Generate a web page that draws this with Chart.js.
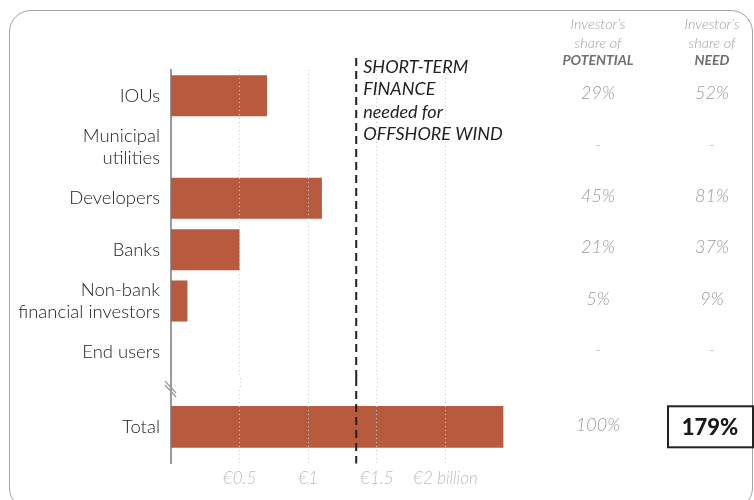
<!DOCTYPE html>
<html lang="en">
<head>
<meta charset="UTF-8">
<title>Short-term finance for offshore wind</title>
<script src="https://cdn.jsdelivr.net/npm/chart.js"></script>
<style>
  html, body { margin: 0; padding: 0; background: #fff; }
  .wrap { position: relative; width: 754px; height: 500px; overflow: hidden; }
  .frame { position: absolute; left: 9px; top: 10px; width: 744px; height: 500px; border: 1.5px solid #a3a3a3; border-radius: 22px; box-sizing: border-box; }
  .panel { position: absolute; left: 0; width: 754px; }
  #topPanel { top: 0; height: 378px; }
  #totalPanel { top: 378px; height: 122px; }
</style>
</head>
<body>
<div class="wrap">
  <div class="frame"></div>
  <div class="panel" id="topPanel"><canvas id="chartTop"></canvas></div>
  <div class="panel" id="totalPanel"><canvas id="chartTotal"></canvas></div>
</div>
<script>
  // values in € billion
  const categories = ['IOUs', ['Municipal', 'utilities'], 'Developers', 'Banks', ['Non-bank', 'financial investors'], 'End users'];
  const financeBn = [0.70, 0, 1.10, 0.50, 0.12, 0];
  const totalCategory = ['Total'];
  const totalFinanceBn = [2.42];
  const offshoreWindNeedBn = 1.35;

  const shareOfPotential = ['29%', '-', '45%', '21%', '5%', '-'];
  const shareOfNeed = ['52%', '-', '81%', '37%', '9%', '-'];
  const totalShareOfPotential = ['100%'];
  const totalShareOfNeed = ['179%'];

  const xTickValues = [0.5, 1, 1.5, 2];
  const xTickLabels = ['€0.5', '€1', '€1.5', '€2 billion'];
  const needNoteLines = ['SHORT-TERM', 'FINANCE', 'needed for', 'OFFSHORE WIND'];

  const BAR = '#b85a3e';
  const FONT = 'Lato, "Open Sans", sans-serif';
  const COL_POT = 598, COL_NEED = 712;
  const GRID = '#c6c6c6';
  const AXIS = '#9a9a9a';

  function xScale(showLabels) {
    const s = {
      type: 'linear', min: 0, max: 2.5,
      afterBuildTicks: sc => { sc.ticks = xTickValues.map(v => ({ value: v })); },
      grid: { color: GRID, lineWidth: 1, drawTicks: false, z: 1 },
      border: { display: false, dash: [1, 3] },
      ticks: {
        display: showLabels, padding: 5, color: '#bdbdbd',
        font: { family: FONT, size: 17, style: 'italic', weight: 300 },
        callback: (v, i) => xTickLabels[i]
      }
    };
    if (!showLabels) s.afterFit = sc => { sc.height = 0; };
    return s;
  }

  function yScale() {
    return {
      type: 'category',
      grid: { display: false, drawTicks: false },
      border: { color: AXIS, width: 2 },
      ticks: { color: '#222', padding: 11, font: { family: FONT, size: 18.5, weight: 300 } },
      afterFit: s => { s.width = 171; s.paddingTop = 0; s.paddingBottom = 0; }
    };
  }

  function dashedNeed(ctx, chart, y0, y1) {
    const x = chart.scales.x.getPixelForValue(offshoreWindNeedBn);
    ctx.save();
    ctx.strokeStyle = '#222';
    ctx.lineWidth = 2;
    ctx.setLineDash([8, 5]);
    ctx.beginPath();
    ctx.moveTo(x, y0);
    ctx.lineTo(x, y1);
    ctx.stroke();
    ctx.restore();
    return x;
  }

  const topDecor = {
    id: 'topDecor',
    afterDraw(chart) {
      const ctx = chart.ctx;
      const x = dashedNeed(ctx, chart, 58, chart.height);
      ctx.save();
      ctx.textBaseline = 'middle';
      // note next to the dashed line
      ctx.textAlign = 'left';
      ctx.fillStyle = '#222';
      ctx.font = `italic 18px ${FONT}`;
      needNoteLines.forEach((t, i) => ctx.fillText(t, x + 7, 67 + i * 22.5));
      // column headers
      ctx.textAlign = 'center';
      [[COL_POT, 'POTENTIAL'], [COL_NEED, 'NEED']].forEach(([cx, key]) => {
        ctx.font = `italic 300 14.5px ${FONT}`;
        ctx.fillStyle = '#a0a0a0';
        ctx.fillText('Investor’s', cx, 24);
        ctx.fillText('share of', cx, 43);
        ctx.font = `italic bold 14px ${FONT}`;
        ctx.fillStyle = '#707070';
        ctx.fillText(key, cx, 60);
      });
      // shares
      ctx.font = `italic 300 18px ${FONT}`;
      ctx.fillStyle = '#999';
      categories.forEach((c, i) => {
        const y = chart.scales.y.getPixelForValue(i) - 2;
        ctx.fillText(shareOfPotential[i], COL_POT, y);
        ctx.fillText(shareOfNeed[i], COL_NEED, y);
      });
      ctx.restore();
    }
  };

  const totalDecor = {
    id: 'totalDecor',
    afterDraw(chart) {
      const ctx = chart.ctx;
      const area = chart.chartArea;
      const xs = chart.scales.x;
      ctx.save();
      // carry grid and axis through the break
      ctx.strokeStyle = GRID;
      ctx.lineWidth = 1;
      ctx.setLineDash([1, 3]);
      xTickValues.forEach(v => {
        const x = Math.round(xs.getPixelForValue(v)) + 0.5;
        ctx.beginPath();
        ctx.moveTo(x, 0);
        ctx.lineTo(x, area.top);
        ctx.stroke();
      });
      ctx.setLineDash([]);
      ctx.strokeStyle = AXIS;
      ctx.lineWidth = 2;
      ctx.beginPath();
      ctx.moveTo(area.left, 0);
      ctx.lineTo(area.left, area.top);
      ctx.stroke();
      // break mark
      ctx.lineWidth = 1.3;
      [0, 4].forEach(d => {
        ctx.beginPath();
        ctx.moveTo(area.left - 6, 3 + d);
        ctx.lineTo(area.left + 5, 15 + d);
        ctx.stroke();
      });
      ctx.restore();

      dashedNeed(ctx, chart, 0, area.bottom);

      ctx.save();
      const y = chart.scales.y.getPixelForValue(0);
      ctx.textAlign = 'center';
      ctx.textBaseline = 'middle';
      ctx.font = `italic 300 18px ${FONT}`;
      ctx.fillStyle = '#999';
      ctx.fillText(totalShareOfPotential[0], COL_POT, y - 2);
      ctx.strokeStyle = '#222';
      ctx.lineWidth = 2;
      ctx.strokeRect(668, y - 20.5, 85, 41);
      ctx.font = `900 22px ${FONT}`;
      ctx.fillStyle = '#1a1a1a';
      ctx.fillText(totalShareOfNeed[0], 710, y + 1);
      ctx.restore();
    }
  };

  const common = {
    indexAxis: 'y',
    responsive: true,
    maintainAspectRatio: false,
    animation: false,
    plugins: { legend: { display: false }, tooltip: { enabled: false } }
  };

  new Chart(document.getElementById('chartTop'), {
    type: 'bar',
    data: {
      labels: categories,
      datasets: [{ data: financeBn, backgroundColor: BAR, categoryPercentage: 0.8, barPercentage: 1 }]
    },
    options: Object.assign({}, common, {
      layout: { padding: { top: 70, right: 240, bottom: 0, left: 0 } },
      scales: { x: xScale(false), y: yScale() }
    }),
    plugins: [topDecor]
  });

  new Chart(document.getElementById('chartTotal'), {
    type: 'bar',
    data: {
      labels: totalCategory,
      datasets: [{ data: totalFinanceBn, backgroundColor: BAR, barThickness: 41 }]
    },
    options: Object.assign({}, common, {
      layout: { padding: { top: 12, right: 240, bottom: 6, left: 0 } },
      scales: { x: xScale(true), y: yScale() }
    }),
    plugins: [totalDecor]
  });
</script>
</body>
</html>
